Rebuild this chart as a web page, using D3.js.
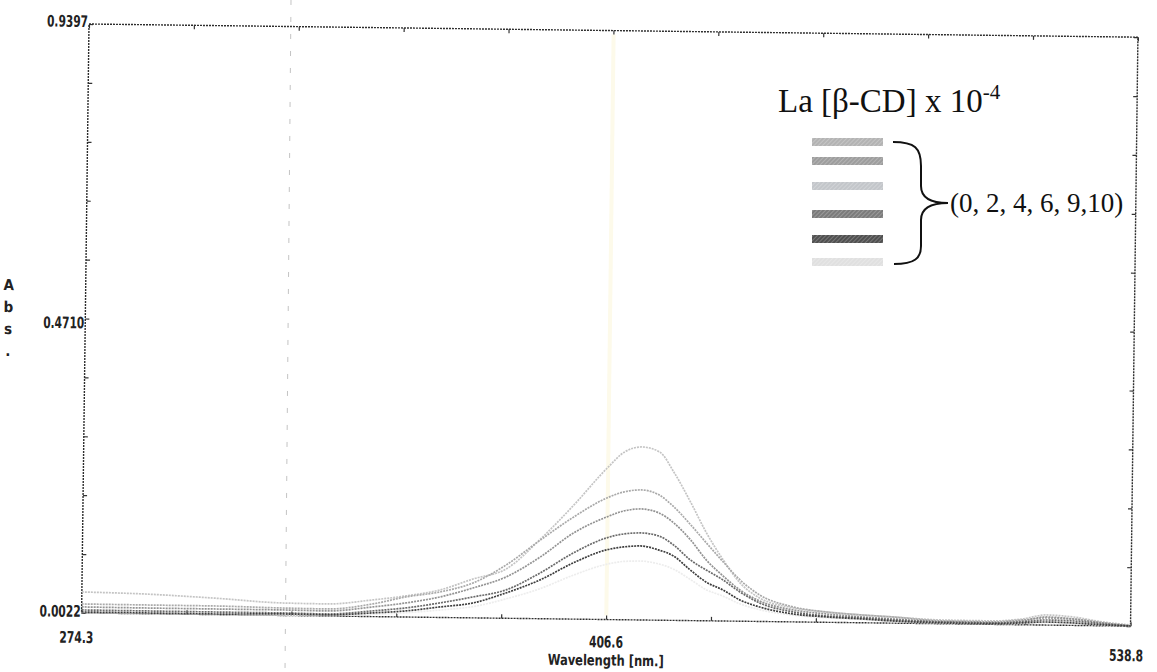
<!DOCTYPE html>
<html>
<head>
<meta charset="utf-8">
<script src="https://cdn.jsdelivr.net/npm/d3@7"></script>
<style>
  body { margin: 0; background: white; }
</style>
</head>
<body>
<div id="container"></div>
<script>
let w = 1157;
let h = 672;

// wavelength grid (nm) shared by all traces
let wavelength = [274.3, 289.7, 307.3, 325.0, 336.3, 347.7, 356.0, 364.6, 372.9, 381.2, 389.8,
  398.1, 406.4, 410.7, 415.0, 419.5, 423.3, 427.6, 431.6, 435.9, 440.2, 445.2, 453.6, 461.9,
  471.2, 478.8, 491.4, 504.0, 511.6, 517.4, 524.2, 531.7, 538.8];

// absorbance traces
let absA = [0.0356, 0.0337, 0.0286, 0.0221, 0.0215, 0.0288, 0.0358, 0.0460, 0.0641, 0.0807, 0.1292,
  0.1840, 0.2435, 0.2693, 0.2776, 0.2701, 0.2370, 0.1896, 0.1421, 0.0995, 0.0632, 0.0396, 0.0245,
  0.0188, 0.0146, 0.0121, 0.0082, 0.0078, 0.0116, 0.0183, 0.0157, 0.0084, 0.0041];
let absB = [0.0165, 0.0162, 0.0160, 0.0141, 0.0135, 0.0224, 0.0342, 0.0428, 0.0578, 0.0871, 0.1277,
  0.1649, 0.1958, 0.2057, 0.2092, 0.2017, 0.1829, 0.1546, 0.1262, 0.0963, 0.0680, 0.0444, 0.0261,
  0.0188, 0.0146, 0.0121, 0.0067, 0.0062, 0.0100, 0.0135, 0.0125, 0.0068, 0.0025];
let absC = [0.0118, 0.0114, 0.0112, 0.0110, 0.0103, 0.0176, 0.0246, 0.0348, 0.0498, 0.0680, 0.1006,
  0.1394, 0.1655, 0.1754, 0.1789, 0.1730, 0.1574, 0.1307, 0.0992, 0.0740, 0.0520, 0.0348, 0.0213,
  0.0156, 0.0114, 0.0089, 0.0051, 0.0046, 0.0084, 0.0151, 0.0125, 0.0068, 0.0025];
let absD = [0.0070, 0.0067, 0.0064, 0.0062, 0.0055, 0.0113, 0.0167, 0.0253, 0.0355, 0.0473, 0.0751,
  0.1076, 0.1321, 0.1388, 0.1407, 0.1364, 0.1224, 0.0988, 0.0832, 0.0676, 0.0488, 0.0317, 0.0181,
  0.0124, 0.0098, 0.0073, 0.0051, 0.0046, 0.0068, 0.0103, 0.0094, 0.0052, 0.0025];
let absE = [0.0038, 0.0035, 0.0032, 0.0046, 0.0040, 0.0081, 0.0119, 0.0189, 0.0259, 0.0425, 0.0640,
  0.0917, 0.1130, 0.1181, 0.1200, 0.1141, 0.1049, 0.0829, 0.0641, 0.0517, 0.0361, 0.0253, 0.0149,
  0.0108, 0.0082, 0.0057, 0.0035, 0.0030, 0.0052, 0.0071, 0.0062, 0.0036, 0.0025];
let absF = [0.0030, 0.0028, 0.0026, 0.0030, 0.0032, 0.0060, 0.0090, 0.0140, 0.0200, 0.0330, 0.0500,
  0.0720, 0.0900, 0.0950, 0.0960, 0.0920, 0.0840, 0.0680, 0.0520, 0.0420, 0.0300, 0.0210, 0.0130,
  0.0095, 0.0072, 0.0050, 0.0032, 0.0028, 0.0045, 0.0060, 0.0055, 0.0032, 0.0024];

let concentrations = ["0", "2", "4", "6", "9", "10"];
let legendColors = ["#b3b3b3", "#9d9d9d", "#c3c6ca", "#7b7b7b", "#505050", "#e0e0e0"];

let xTickLabels = ["274.3", "406.6", "538.8"];
let yTickLabels = ["0.0022", "0.4710", "0.9397"];

let traces = [
  { values: absF, color: "#ededed" },
  { values: absA, color: "#c4c4c4" },
  { values: absB, color: "#a9a9a9" },
  { values: absC, color: "#939393" },
  { values: absD, color: "#6a6a6a" },
  { values: absE, color: "#3e3e3e" }
];

let padLeft = 89, padTop = 24, pw = 1049, ph = 589;
let sans = "'DejaVu Sans', sans-serif";
let serif = "'Liberation Serif', 'DejaVu Serif', serif";

let viz = d3.select("#container")
  .append("svg")
  .attr("width", w)
  .attr("height", h)
  .style("background-color", "white");

// hatch texture for the legend swatches
viz.append("defs").append("pattern")
  .attr("id", "hatch")
  .attr("width", 3)
  .attr("height", 3)
  .attr("patternUnits", "userSpaceOnUse")
  .attr("patternTransform", "rotate(45)")
  .append("line")
  .attr("x1", 0).attr("y1", 0)
  .attr("x2", 0).attr("y2", 3)
  .attr("stroke", "white")
  .attr("stroke-opacity", 0.45)
  .attr("stroke-width", 1);

// the scan is a bit crooked
let chart = viz.append("g")
  .attr("transform", "rotate(0.72," + padLeft + "," + padTop + ")");

let x = d3.scaleLinear()
  .domain([+xTickLabels[0], +xTickLabels[2]])
  .range([padLeft, padLeft + pw]);
let y = d3.scaleLinear()
  .domain([+yTickLabels[0], +yTickLabels[2]])
  .range([padTop + ph, padTop]);

// scan artefacts
chart.append("line")
  .attr("x1", x(406.6)).attr("x2", x(406.6))
  .attr("y1", padTop + 4).attr("y2", padTop + ph - 4)
  .attr("stroke", "#fdfaea")
  .attr("stroke-width", 4);
viz.append("line")
  .attr("x1", 291).attr("y1", 0)
  .attr("x2", 285).attr("y2", h)
  .attr("stroke", "#c4c4c4")
  .attr("stroke-width", 1)
  .attr("stroke-dasharray", "5,12");

// minor ticks: ten divisions on each side
let xDiv = d3.range(11).map(i => x.domain()[0] + i * (x.domain()[1] - x.domain()[0]) / 10);
let yDiv = d3.range(11).map(i => y.domain()[0] + i * (y.domain()[1] - y.domain()[0]) / 10);

let axisStyle = g => {
  g.select(".domain").remove();
  g.selectAll(".tick line").attr("stroke", "#333").attr("stroke-width", 1.2);
  g.selectAll(".tick text").remove();
};

chart.append("g").attr("transform", "translate(0," + (padTop + ph) + ")")
  .call(d3.axisBottom(x).tickValues(xDiv).tickSize(-4)).call(axisStyle);
chart.append("g").attr("transform", "translate(0," + padTop + ")")
  .call(d3.axisTop(x).tickValues(xDiv).tickSize(-4)).call(axisStyle);
chart.append("g").attr("transform", "translate(" + padLeft + ",0)")
  .call(d3.axisLeft(y).tickValues(yDiv).tickSize(-4)).call(axisStyle);
chart.append("g").attr("transform", "translate(" + (padLeft + pw) + ",0)")
  .call(d3.axisRight(y).tickValues(yDiv).tickSize(-4)).call(axisStyle);

// frame
chart.append("rect")
  .attr("x", padLeft)
  .attr("y", padTop)
  .attr("width", pw)
  .attr("height", ph)
  .attr("fill", "none")
  .attr("stroke", "#2e2e2e")
  .attr("stroke-width", 1.4)
  .attr("stroke-dasharray", "2,1");

// traces
let line = d3.line()
  .x((d, i) => x(wavelength[i]))
  .y(d => y(d))
  .curve(d3.curveMonotoneX);

chart.selectAll(".trace")
  .data(traces)
  .enter()
  .append("path")
  .attr("class", "trace")
  .attr("d", d => line(d.values))
  .attr("fill", "none")
  .attr("stroke", d => d.color)
  .attr("stroke-width", 1.7)
  .attr("stroke-dasharray", "2,1");

// condensed instrument-style labels
function label(sel, size) {
  sel.style("font-family", sans)
    .style("font-weight", "bold")
    .style("font-stretch", "condensed")
    .style("font-size", size + "px")
    .attr("fill", "#222");
}

let yOffsets = [4, 10, 3];
chart.selectAll(".ylab")
  .data(yTickLabels)
  .enter()
  .append("text")
  .attr("x", padLeft - 1)
  .attr("y", (d, i) => y(+d) + yOffsets[i])
  .attr("text-anchor", "end")
  .attr("textLength", 41)
  .attr("lengthAdjust", "spacingAndGlyphs")
  .call(label, 16)
  .text(d => d);

let xShift = [-5, 0, -4];
let xDrop = [30, 28, 35];
chart.selectAll(".xlab")
  .data(xTickLabels)
  .enter()
  .append("text")
  .attr("x", (d, i) => x(+d) + xShift[i])
  .attr("y", (d, i) => padTop + ph + xDrop[i])
  .attr("text-anchor", "middle")
  .attr("textLength", 34)
  .attr("lengthAdjust", "spacingAndGlyphs")
  .call(label, 16)
  .text(d => d);

chart.append("text")
  .attr("x", x(406.6))
  .attr("y", padTop + ph + 46)
  .attr("text-anchor", "middle")
  .attr("textLength", 116)
  .attr("lengthAdjust", "spacingAndGlyphs")
  .call(label, 15)
  .text("Wavelength [nm.]");

// vertical "Abs." label, one letter per line
chart.selectAll(".abs")
  .data(["A", "b", "s", "."])
  .enter()
  .append("text")
  .attr("x", 12)
  .attr("y", (d, i) => 291 + i * 22)
  .attr("text-anchor", "middle")
  .call(label, 15)
  .text(d => d);

// legend, pasted on top of the scan
let legend = viz.append("g").attr("class", "legend");

let title = legend.append("text")
  .attr("x", 778)
  .attr("y", 112)
  .style("font-family", serif)
  .style("font-size", "33px")
  .attr("fill", "#111");
title.append("tspan").text("La [β-CD] x 10");
title.append("tspan")
  .attr("dy", -13)
  .style("font-size", "21px")
  .text("-4");

let swatchY = [142, 161, 186, 214, 239, 262];
let swatches = legend.selectAll(".swatch")
  .data(concentrations)
  .enter()
  .append("g")
  .attr("class", "swatch");
swatches.append("rect")
  .attr("x", 812)
  .attr("y", (d, i) => swatchY[i] - 4)
  .attr("width", 71)
  .attr("height", 8)
  .attr("fill", (d, i) => legendColors[i]);
swatches.append("rect")
  .attr("x", 812)
  .attr("y", (d, i) => swatchY[i] - 4)
  .attr("width", 71)
  .attr("height", 8)
  .attr("fill", "url(#hatch)");

legend.append("path")
  .attr("d", "M893,142 C915,142 921,148 921,166 L921,186 C921,198 930,203 948,203 " +
             "C930,203 921,208 921,220 L921,246 C921,258 915,264 894,264")
  .attr("fill", "none")
  .attr("stroke", "#111")
  .attr("stroke-width", 2);

legend.append("text")
  .attr("x", 950)
  .attr("y", 212)
  .style("font-family", serif)
  .style("font-size", "27px")
  .attr("fill", "#111")
  .text("(" + concentrations.join(", ").replace("9, 10", "9,10") + ")");
</script>
</body>
</html>
